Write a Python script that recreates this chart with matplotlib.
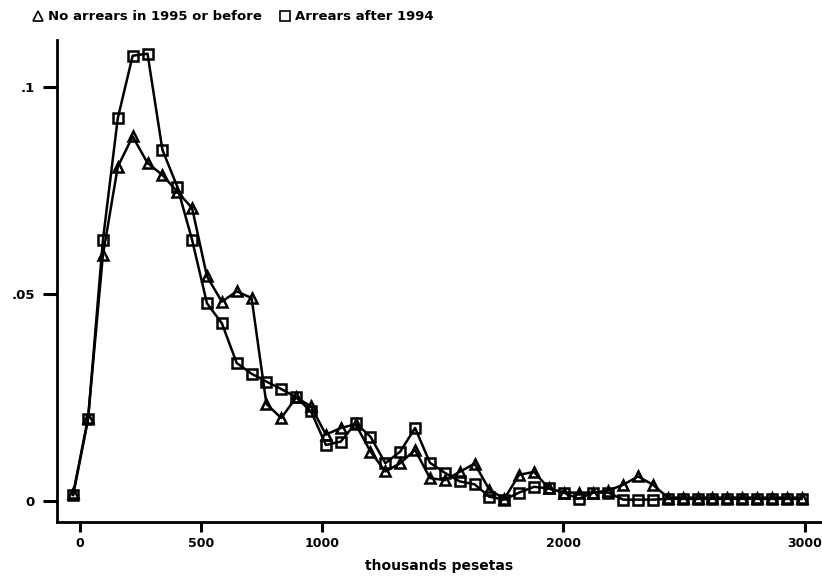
import numpy as np
import matplotlib
matplotlib.use('Agg')
import matplotlib.pyplot as plt
from matplotlib.lines import Line2D

# bins in thousands of pesetas, 50 points
x_start = -28
x_step = 61.5
n_pts = 50
xs = x_start + x_step * np.arange(n_pts)

no_arrears = [0.0018, 0.0200, 0.0594, 0.0807, 0.0880, 0.0816, 0.0787, 0.0747, 0.0707, 0.0542,
              0.0481, 0.0506, 0.0490, 0.0234, 0.0200, 0.0250, 0.0228, 0.0160, 0.0176, 0.0185,
              0.0119, 0.0071, 0.0091, 0.0123, 0.0055, 0.0050, 0.0070, 0.0090, 0.0027, 0.0005,
              0.0063, 0.0070, 0.0030, 0.0020, 0.0020, 0.0020, 0.0025, 0.0039, 0.0059, 0.0039,
              0.0008, 0.0008, 0.0008, 0.0008, 0.0008, 0.0008, 0.0008, 0.0008, 0.0008, 0.0008]

arrears = [0.0014, 0.0197, 0.0630, 0.0924, 0.1075, 0.1080, 0.0848, 0.0759, 0.0630, 0.0477,
           0.0429, 0.0333, 0.0307, 0.0288, 0.0270, 0.0250, 0.0216, 0.0135, 0.0143, 0.0188,
           0.0155, 0.0091, 0.0119, 0.0176, 0.0092, 0.0068, 0.0047, 0.0040, 0.0010, 0.0003,
           0.0020, 0.0034, 0.0030, 0.0020, 0.0005, 0.0020, 0.0020, 0.0003, 0.0003, 0.0003,
           0.0005, 0.0005, 0.0005, 0.0005, 0.0005, 0.0005, 0.0005, 0.0005, 0.0005, 0.0005]

xticks = [0, 500, 1000, 2000, 3000]
yticks = [0, 0.05, 0.1]
ytick_labels = ['0', '.05', '.1']

plt.rcParams['font.family'] = 'DejaVu Sans'
plt.rcParams['font.weight'] = 'bold'

fig = plt.figure(figsize=(8.22, 5.81), dpi=100)
ax = fig.add_axes([57 / 822, 59 / 581, 765 / 822, 482 / 581])

ax.plot(xs, no_arrears, color='black', lw=1.8, marker='^', ms=7,
        mfc='none', mec='black', mew=1.8)
ax.plot(xs, arrears, color='black', lw=1.8, marker='s', ms=7,
        mfc='none', mec='black', mew=1.8)

ax.set_xlim(-95, 3070)
ax.set_ylim(-0.0051, 0.1113)

ax.set_xticks(xticks)
ax.set_xticklabels([str(t) for t in xticks])
ax.set_yticks(yticks)
ax.set_yticklabels(ytick_labels)

for s in ['top', 'right']:
    ax.spines[s].set_visible(False)
for s in ['left', 'bottom']:
    ax.spines[s].set_linewidth(2)

ax.tick_params(axis='y', length=10, width=2.2, labelsize=9.5, pad=6)
ax.tick_params(axis='x', length=7, width=2.2, labelsize=9, pad=4)

ax.set_xlabel('thousands pesetas', fontsize=10, fontweight='bold', labelpad=6)

handles = [
    Line2D([], [], color='black', marker='^', ms=7, mfc='none', mew=1.2, ls='none'),
    Line2D([], [], color='black', marker='s', ms=7, mfc='none', mew=1.2, ls='none'),
]
fig.legend(handles, ['No arrears in 1995 or before', 'Arrears after 1994'],
           loc='center left', bbox_to_anchor=(0.038, 0.971), ncol=2, frameon=False,
           fontsize=9.5, handlelength=1.0, handletextpad=0.3, columnspacing=1.2,
           borderaxespad=0, borderpad=0)

fig.savefig('out.png', dpi=100)
